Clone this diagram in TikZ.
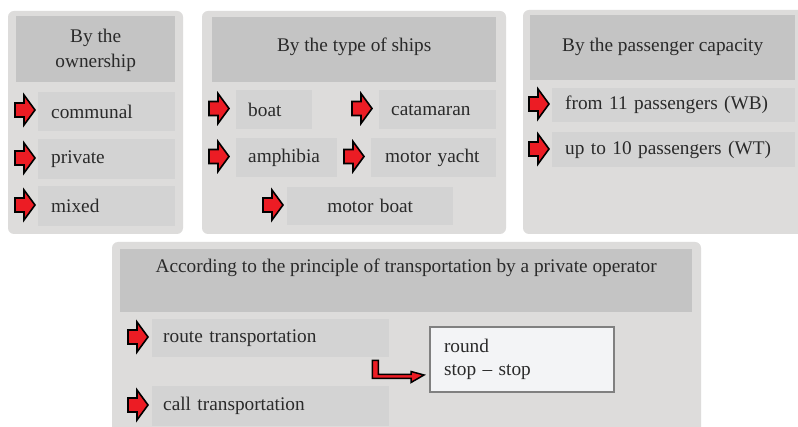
\documentclass[tikz,border=0pt]{standalone}
\usepackage{fontspec}
\setmainfont{Liberation Serif}
\definecolor{panelbg}{RGB}{221,220,219}
\definecolor{headbg}{RGB}{196,196,196}
\definecolor{itembg}{RGB}{211,211,211}
\definecolor{txt}{RGB}{42,42,42}
\definecolor{boxbg}{RGB}{243,244,246}
\definecolor{boxline}{RGB}{128,128,128}
\definecolor{arrred}{RGB}{236,28,36}
\tikzset{
  x=1pt, y=-1pt,
  panel/.style={fill=panelbg, rounded corners=6pt},
  head/.style={fill=headbg, anchor=north west, inner sep=0pt},
  headtext/.style={text=txt, font=\fontsize{19.3}{25}\selectfont, align=center, inner sep=0pt},
  item/.style={fill=itembg, anchor=north west, inner ysep=0pt, text=txt,
    font=\fontsize{19.3}{23}\selectfont, align=left},
  pics/bulletarrow/.style={code={
    \filldraw[fill=arrred, draw=black, line width=1.6pt, line join=miter]
      (-10,-7) -- (-1,-7) -- (-1,-15) -- (10,0) -- (-1,15) -- (-1,7) -- (-10,7) -- cycle;
  }}
}
\begin{document}
\begin{tikzpicture}
\useasboundingbox (0,0) rectangle (798,427);
\fill[white] (0,0) rectangle (798,427);
\begin{scope}
\clip (0,0) rectangle (798,427);

% ---------- ownership ----------
\fill[panel] (8,11) rectangle (183,234);
\node[head, minimum width=159pt, minimum height=66pt,
  label={[headtext, yshift=-1pt]center:By the\\ownership}] (own) at (16,16) {};
\node[item, minimum height=39pt, inner xsep=13pt, text width=111pt] (communal) at (38,92) {communal};
\node[item, minimum height=40pt, inner xsep=13pt, text width=111pt] (private) at (38,139) {private};
\node[item, minimum height=40pt, inner xsep=13pt, text width=111pt] (mixed) at (38,186) {mixed};
\pic at (25,110) {bulletarrow};
\pic at (25,158) {bulletarrow};
\pic at (25,205) {bulletarrow};

% ---------- type of ships ----------
\fill[panel] (202,11) rectangle (506,234);
\node[head, minimum width=284pt, minimum height=65pt,
  label={[headtext, yshift=3pt]center:By the type of ships}] (ships) at (212,17) {};
\node[item, minimum height=39pt, inner xsep=12pt, text width=52pt] (boat) at (236,90) {boat};
\node[item, minimum height=39pt, inner xsep=12pt, text width=93pt] (catamaran) at (379,90) {catamaran};
\node[item, minimum height=39pt, inner xsep=12pt, text width=77pt] (amphibia) at (236,138) {amphibia};
\node[item, minimum height=39pt, inner xsep=14pt, text width=97pt] (yacht) at (371,138) {motor yacht};
\node[item, minimum height=38pt, inner xsep=0pt, text width=166pt, align=center] (mboat) at (287,187) {motor boat};
\pic at (219,108.5) {bulletarrow};
\pic at (362,108.5) {bulletarrow};
\pic at (219,156.5) {bulletarrow};
\pic at (354,156.5) {bulletarrow};
\pic at (273,205) {bulletarrow};

% ---------- passenger capacity ----------
\fill[panel] (523,10) rectangle (820,234);
\node[head, minimum width=265pt, minimum height=65pt,
  label={[headtext, yshift=1pt]center:By the passenger capacity}] (cap) at (530,15) {};
\node[item, minimum height=34pt, inner xsep=13pt, text width=217pt] (wb) at (552,88) {from 11 passengers (WB)};
\node[item, minimum height=35pt, inner xsep=13pt, text width=217pt] (wt) at (552,132) {up to 10 passengers (WT)};
\pic at (539,104) {bulletarrow};
\pic at (539,149) {bulletarrow};

% ---------- private operator ----------
\fill[panel] (112,242) rectangle (701,450);
\node[head, minimum width=572pt, minimum height=63pt,
  label={[headtext, anchor=north, yshift=-10pt]north:According to the principle of transportation by a private operator}]
  (oper) at (120,249) {};
\node[item, minimum height=38pt, inner xsep=11pt, text width=215pt] (route) at (152,319) {route transportation};
\node[item, minimum height=40pt, inner xsep=11pt, text width=215pt] (call) at (152,386) {call transportation};
\pic at (138,337) {bulletarrow};
\pic at (138,405) {bulletarrow};

\node[draw=boxline, line width=2pt, fill=boxbg, anchor=north west, minimum width=184pt,
  minimum height=65pt, inner xsep=13pt, text width=156pt, align=left, text=txt,
  font=\fontsize{19.3}{23}\selectfont] (round) at (429,326) {round\\stop -- stop};

% bent connector from route transportation to the round box
\coordinate (lstart) at ([xshift=-17pt,yshift=-3pt]route.south east);
\filldraw[fill=arrred, draw=black, line width=1.5pt, line join=miter]
  (lstart) -- ++(6,0) |- ([xshift=-18pt,yshift=-15pt]round.west) -- ++(0,-3)
  -- ([xshift=-5pt,yshift=-15.5pt]round.west) -- ++(-13,7.5) -- ++(0,-4)
  -| (lstart) -- cycle;
\end{scope}
\end{tikzpicture}
\end{document}
